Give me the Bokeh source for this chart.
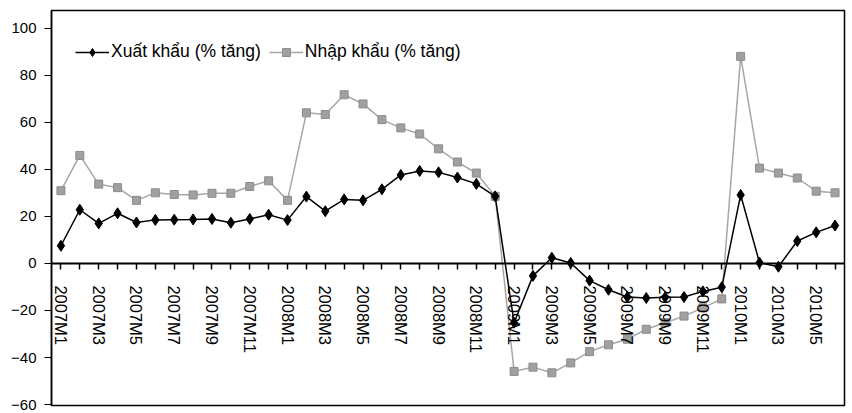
from bokeh.plotting import figure
from bokeh.models import (FactorRange, Range1d, FixedTicker, Legend, LegendItem,
                          ColumnDataSource, CustomJSTickFormatter)
from bokeh.embed import file_html
from bokeh.resources import INLINE

months = ["2007M1", "2007M2", "2007M3", "2007M4", "2007M5", "2007M6", "2007M7", "2007M8",
          "2007M9", "2007M10", "2007M11", "2007M12",
          "2008M1", "2008M2", "2008M3", "2008M4", "2008M5", "2008M6", "2008M7", "2008M8",
          "2008M9", "2008M10", "2008M11", "2008M12",
          "2009M1", "2009M2", "2009M3", "2009M4", "2009M5", "2009M6", "2009M7", "2009M8",
          "2009M9", "2009M10", "2009M11", "2009M12",
          "2010M1", "2010M2", "2010M3", "2010M4", "2010M5", "2010M6"]

export_growth = [7.5, 22.8, 17.0, 21.3, 17.4, 18.5, 18.6, 18.7, 18.9, 17.3, 18.9, 20.7,
                 18.4, 28.4, 22.2, 27.2, 26.8, 31.5, 37.6, 39.3, 38.7, 36.5, 33.8, 28.5,
                 -25.2, -5.3, 2.4, 0.2, -7.3, -11.2, -14.3, -14.7, -14.4, -14.3, -11.9, -10.1,
                 29.1, 0.3, -1.4, 9.5, 13.2, 16.1]

import_growth = [30.9, 45.9, 33.7, 32.2, 26.8, 30.0, 29.3, 29.1, 29.8, 29.8, 32.7, 35.1,
                 26.8, 64.0, 63.3, 71.7, 67.8, 61.1, 57.6, 55.0, 48.7, 43.1, 38.4, 28.5,
                 -45.9, -44.1, -46.5, -42.3, -37.5, -34.6, -32.2, -28.0, -25.2, -22.4, -18.9, -15.1,
                 88.0, 40.5, 38.4, 36.3, 30.7, 30.0]

y_ticks = [-60, -40, -20, 0, 20, 40, 60, 80, 100]

series_names = ["Xuất khẩu (% tăng)", "Nhập khẩu (% tăng)"]

src = ColumnDataSource(data=dict(month=months, exp=export_growth, imp=import_growth))

p = figure(x_range=FactorRange(factors=months, range_padding=0),
           y_range=Range1d(-60.4, 107.5),
           width=852, height=413, title=None,
           output_backend="svg", toolbar_location=None,
           min_border_left=51, min_border_right=8, min_border_top=10, min_border_bottom=8)

p.xgrid.visible = False
p.ygrid.visible = False
p.outline_line_color = "black"
p.outline_line_width = 1.5
p.outline_line_alpha = 1.0
p.background_fill_color = "white"
p.border_fill_color = "white"

FONT = "Liberation Sans"

ya = p.yaxis[0]
ya.ticker = FixedTicker(ticks=y_ticks)
ya.minor_tick_line_color = None
ya.major_tick_in = 0
ya.major_tick_out = 7
ya.major_label_standoff = 8
ya.axis_line_width = 1.5
ya.axis_line_color = "black"
ya.major_tick_line_color = "black"
ya.major_label_text_font = FONT
ya.major_label_text_font_size = "15px"
ya.major_label_text_color = "black"

xa = p.xaxis[0]
xa.fixed_location = 0
xa.major_label_orientation = "vertical"
xa.formatter = CustomJSTickFormatter(code="return (index % 2 == 0) ? tick : '';")
xa.major_tick_in = 0
xa.major_tick_out = 6
xa.major_label_standoff = 16
xa.axis_line_width = 2
xa.axis_line_color = "black"
xa.major_tick_line_color = "black"
xa.major_tick_line_width = 1.5
xa.major_label_text_font = FONT
xa.major_label_text_font_size = "16.5px"
xa.major_label_text_color = "black"

l2 = p.line(x="month", y="imp", source=src, line_color="#a6a6a6", line_width=1.5)
s2 = p.scatter(x="month", y="imp", source=src, marker="square", size=8,
               fill_color="#a0a0a0", line_color="#8c8c8c")
l1 = p.line(x="month", y="exp", source=src, line_color="black", line_width=1.5)
s1 = p.scatter(x="month", y="exp", source=src, marker="diamond", size=11,
               fill_color="black", line_color="black")

legend = Legend(items=[LegendItem(label=series_names[0], renderers=[l1, s1]),
                       LegendItem(label=series_names[1], renderers=[l2, s2])],
                orientation="horizontal", location=(24, 343),
                border_line_color=None, background_fill_alpha=0,
                padding=0, margin=0, spacing=8, label_standoff=2,
                glyph_width=34, glyph_height=20, label_height=20,
                label_text_font=FONT, label_text_font_size="17.5px",
                label_text_baseline="middle", label_text_color="black")
p.add_layout(legend)

open("out.html", "w").write(file_html(p, INLINE))
